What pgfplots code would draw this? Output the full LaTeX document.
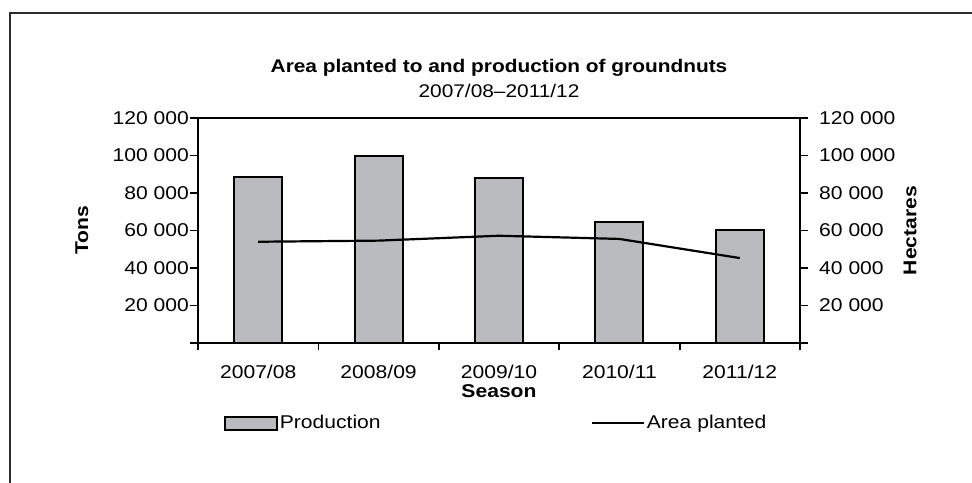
\documentclass[border=0pt]{standalone}
\usepackage{fontspec}
\setmainfont{Liberation Sans}[FakeStretch=1.14]
\usepackage{pgfplots}
\pgfplotsset{compat=1.18}
\definecolor{bargray}{RGB}{186,187,191}
\definecolor{framegray}{RGB}{45,45,45}
\newcommand{\lbl}{\fontsize{18.5bp}{22bp}\selectfont}
\newcommand{\ttl}{\fontsize{18.3bp}{22bp}\selectfont}

\pgfplotsset{
  chartbase/.style={
    at={(198bp,140bp)}, anchor=south west,
    scale only axis, width=602bp, height=225bp,
    xmin=-0.5, xmax=4.5, ymin=0, ymax=120000,
    axis line style={black, line width=2.2bp},
    tick style={black, line width=1.8bp},
    tick align=outside,
    major tick length=8bp, minor tick length=7bp,
    scaled y ticks=false,
    ytick={0,20000,40000,60000,80000,100000,120000},
    yticklabels={,20 000,40 000,60 000,80 000,100 000,120 000},
    tick label style={font=\lbl, inner sep=0pt},
    label style={font=\lbl\bfseries},
  },
  barleg/.style={legend image code/.code={\draw[##1] (0bp,-6.5bp) rectangle (52bp,6.5bp);}},
  lineleg/.style={legend image code/.code={\draw[##1] (0bp,0bp) -- (52bp,0bp);}},
}

\begin{document}
\begin{tikzpicture}
\useasboundingbox (0bp,0bp) rectangle (972bp,483bp);
\draw[framegray, line width=2.2bp] (10bp,-2bp) -- (10bp,470bp) -- (973bp,470bp);

% production (tons), left axis
\begin{axis}[
  chartbase, clip=false,
  ytick pos=left, xtick pos=bottom,
  xtick={0,1,2,3,4},
  xticklabels={2007/08,2008/09,2009/10,2010/11,2011/12},
  major x tick style={draw=none},
  minor xtick={-0.5,0.5,1.5,2.5,3.5,4.5},
  xticklabel style={anchor=north, yshift=-14bp},
  yticklabel style={anchor=east, xshift=-1bp},
  xlabel={Season},
  xlabel style={at={(axis description cs:0.5,-0.212)}, anchor=center},
  ylabel={Tons},
  ylabel style={at={(axis description cs:-0.193,0.5)}, anchor=center},
  legend columns=2,
  legend style={draw=none, fill=none, inner sep=0pt, outer sep=0pt,
    at={(axis description cs:0.043,-0.3556)}, anchor=west,
    font=\lbl, /tikz/every even column/.append style={column sep=208bp}},
  legend cell align=left,
]
\addplot[ybar, bar width=0.4, fill=bargray, draw=black, line width=2bp, barleg]
  coordinates {(0,88700) (1,99700) (2,87800) (3,64400) (4,60300)};
\addlegendentry{Production}
\addlegendimage{black, line width=2.2bp, lineleg}
\addlegendentry{Area planted}
\node[font=\ttl\bfseries, anchor=base] at (axis description cs:0.5,1.2) {Area planted to and production of groundnuts};
\node[font=\ttl, anchor=base] at (axis description cs:0.5,1.0933) {2007/08--2011/12};
\end{axis}

% area planted (hectares), right axis
\begin{axis}[
  chartbase,
  axis y line*=right, hide x axis,
  yticklabel style={anchor=west, xshift=11bp},
  ylabel={Hectares},
  ylabel style={at={(axis description cs:1.1827,0.5)}, anchor=center},
]
\addplot[black, line width=2.2bp, mark=none]
  coordinates {(0,54000) (1,54600) (2,57200) (3,55500) (4,45300)};
\end{axis}
\end{tikzpicture}
\end{document}
